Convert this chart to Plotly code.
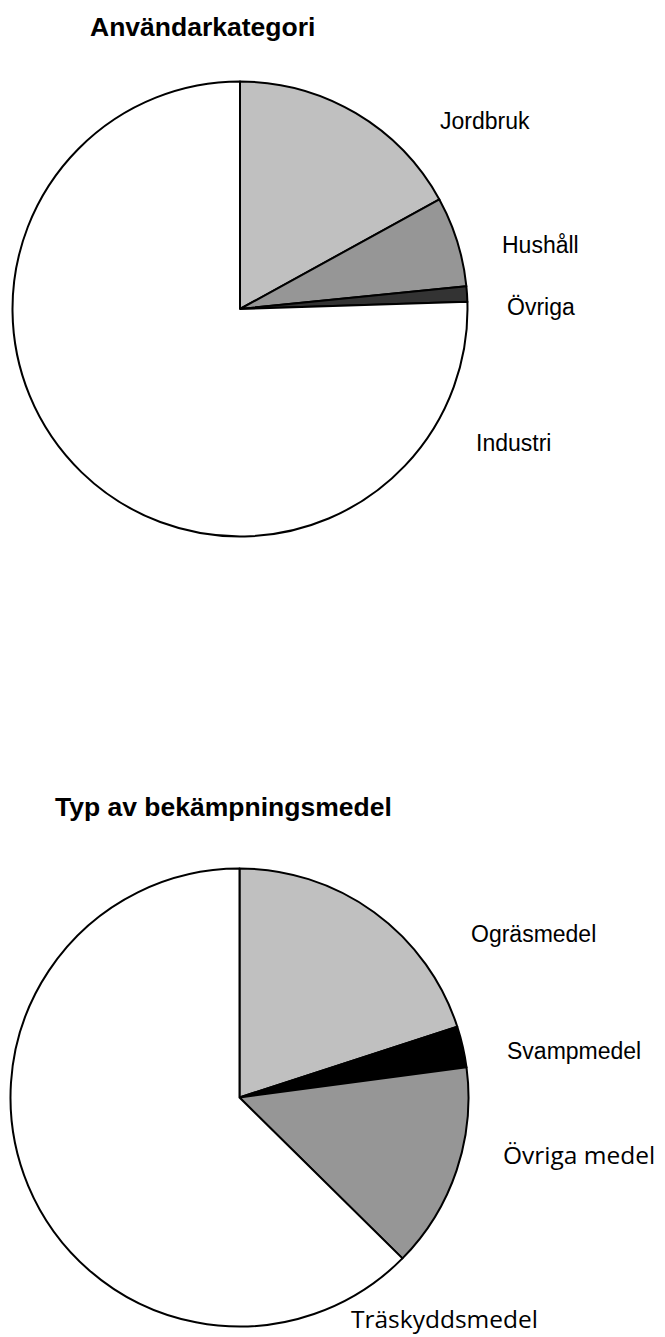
import plotly.graph_objects as go

W, H = 665, 1337

# ---- data ----
user_labels = ["Jordbruk", "Hushåll", "Övriga", "Industri"]
user_values = [17.0, 6.4, 1.1, 75.5]

type_labels = ["Ogräsmedel", "Svampmedel", "Övriga medel", "Träskyddsmedel"]
type_values = [20.0, 2.9, 14.5, 62.6]

titles = ["Användarkategori", "Typ av bekämpningsmedel"]

# ---- styles / layout ----
user_colors = ["#c0c0c0", "#969696", "#333333", "#ffffff"]
type_colors = ["#c0c0c0", "#000000", "#969696", "#ffffff"]


def px_x(x):
    return x / W


def px_y(y):
    return 1 - y / H


def domain(cx, cy, r):
    return dict(x=[px_x(cx - r), px_x(cx + r)], y=[px_y(cy + r), px_y(cy - r)])


fig = go.Figure()
fig.add_trace(go.Pie(
    labels=user_labels, values=user_values, sort=False, direction="clockwise",
    rotation=0, textinfo="none", hoverinfo="label+percent",
    marker=dict(colors=user_colors, line=dict(color="black", width=2)),
    domain=domain(240, 309, 227.5), showlegend=False,
))
fig.add_trace(go.Pie(
    labels=type_labels, values=type_values, sort=False, direction="clockwise",
    rotation=0, textinfo="none", hoverinfo="label+percent",
    marker=dict(colors=type_colors, line=dict(color="black", width=2)),
    domain=domain(239.5, 1097.5, 229), showlegend=False,
))

arial = "Liberation Sans, Arial, sans-serif"
calibri = "Open Sans, sans-serif"

user_pos = [(438, 121), (500, 245.5), (505, 307), (474, 443.5)]
type_pos = [(469, 933.5), (505, 1051), (501, 1154), (349, 1318)]
type_fonts = [arial, arial, calibri, calibri]
type_sizes = [23, 23, 24.5, 24.5]

annotations = []
for lab, (x, y) in zip(user_labels, user_pos):
    annotations.append(dict(text=lab, x=px_x(x), y=px_y(y), xref="paper", yref="paper",
                            xanchor="left", yanchor="middle", showarrow=False,
                            font=dict(family=arial, size=23, color="black")))
for lab, (x, y), f, s in zip(type_labels, type_pos, type_fonts, type_sizes):
    annotations.append(dict(text=lab, x=px_x(x), y=px_y(y), xref="paper", yref="paper",
                            xanchor="left", yanchor="middle", showarrow=False,
                            font=dict(family=f, size=s, color="black")))
for t, (x, y) in zip(titles, [(88, 26.5), (53, 806.5)]):
    annotations.append(dict(text="<b>" + t + "</b>", x=px_x(x), y=px_y(y), xref="paper", yref="paper",
                            xanchor="left", yanchor="middle", showarrow=False,
                            font=dict(family=arial, size=26.5, color="black")))

fig.update_layout(
    width=W, height=H, autosize=False,
    margin=dict(l=0, r=0, t=0, b=0),
    paper_bgcolor="white", plot_bgcolor="white",
    annotations=annotations,
)

fig.write_html(
    "out.html",
    config={"displayModeBar": False},
    post_script="document.body.style.margin='0';document.body.style.overflow='hidden';",
)
